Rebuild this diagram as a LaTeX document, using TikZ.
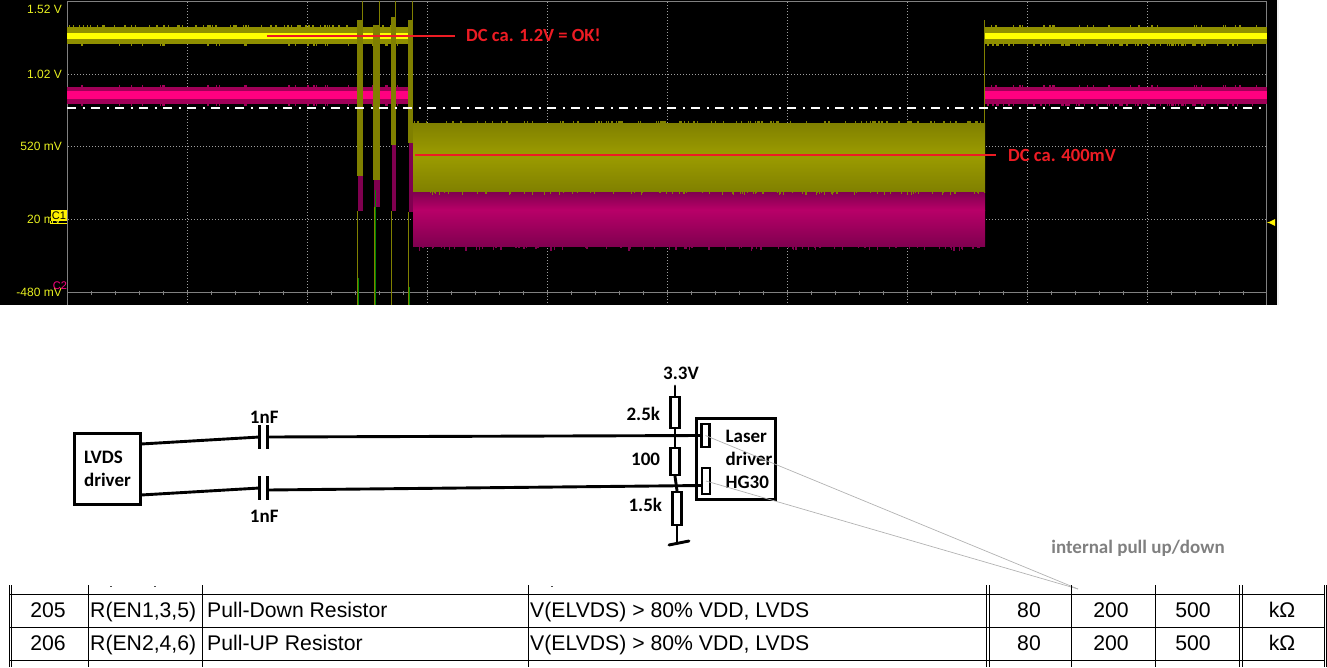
\documentclass[tikz,border=0pt]{standalone}
\usepackage{fontspec}
\setmainfont{Carlito}
\newfontfamily\arialfont{Liberation Sans}
\usetikzlibrary{positioning,calc}
\definecolor{trcyel}{HTML}{FFFF00}
\definecolor{trcyeld}{HTML}{8F8F00}
\definecolor{trcmag}{HTML}{FF0080}
\definecolor{trcmagd}{HTML}{A00058}
\definecolor{blockyel}{HTML}{9C9C00}
\definecolor{blockyeld}{HTML}{808000}
\definecolor{blockmag}{HTML}{B80068}
\definecolor{blockmagd}{HTML}{800050}
\definecolor{annred}{HTML}{ED1C24}
\definecolor{scaletxt}{HTML}{E8F020}
\tikzstyle{box}=[rectangle,line width=3pt,draw=black,fill=white,inner sep=0pt]
\tikzstyle{res}=[rectangle,line width=2.5pt,draw=black,fill=white,minimum width=9pt,inner sep=0pt]
\tikzstyle{plate}=[rectangle,fill=black,minimum width=3pt,minimum height=24pt,inner sep=0pt]
\tikzstyle{pin}=[rectangle,line width=2.5pt,draw=black,fill=white,minimum width=8pt,inner sep=0pt]
\tikzset{
	wire/.style={line width=2.9pt,line cap=round},
	cirtxt/.style={font=\bfseries\fontsize{19}{23}\selectfont,align=left,inner sep=0pt},
	anntxt/.style={font=\bfseries\fontsize{18.6}{20}\selectfont,text=annred,anchor=west,inner sep=0pt},
	annline/.style={draw=annred,line width=2.2pt},
	scaletext/.style={font=\arialfont\fontsize{12}{14}\selectfont,text=scaletxt,anchor=east,inner sep=0pt},
	griddot/.style={draw=gray!75,line width=.7pt,dash pattern=on 1pt off 2pt},
	tabline/.style={draw=black,line width=1pt},
	tabtxt/.style={font=\arialfont\fontsize{21.2}{24}\selectfont,inner sep=0pt,text height=15.4pt,text depth=0pt}
}
\begin{document}
\begin{tikzpicture}[x=1pt,y=-1pt]
	\useasboundingbox (0,0) rectangle (1327,667);
	\fill[black] (0,0) rectangle (1277,305);
	\fill[gray!12] (1277,0) rectangle (1279,305);
	\foreach \gx in {187,307,...,1147} \draw[griddot] (\gx,2) -- (\gx,305);
	\foreach \gy in {74.5,146,219} \draw[griddot] (68,\gy) -- (1266,\gy);
	\draw[gray,line width=.8pt] (67,305) -- (67,1.5) -- (1266.5,1.5) -- (1266.5,305);
	\draw[gray,line width=.8pt] (67,292.5) -- (1266.5,292.5);
	\foreach \gx in {91,115,...,1243} \draw[gray,line width=.8pt] (\gx,290.5) -- (\gx,294.5);
	\foreach \lo/\hi in {67/408,985/1267} {
		\fill[trcyeld] (\lo,27) rectangle (\hi,44);
		\fill[trcyel] (\lo,33.3) rectangle (\hi,39);
		\fill[trcmagd] (\lo,87) rectangle (\hi,104);
		\fill[trcmag] (\lo,91) rectangle (\hi,99);
	}
	\pgfmathsetseed{205}
	\foreach \i in {1,...,70} {
		\pgfmathsetmacro{\xa}{67+340*rnd}
		\pgfmathsetmacro{\xb}{986+280*rnd}
		\fill[trcyeld] (\xa,25) rectangle +(1.3,2);
		\fill[trcyeld] (\xb,44) rectangle +(1.3,2);
		\fill[trcmagd] (\xb,104) rectangle +(1.3,2);
	}
	\foreach \i in {1,...,30} {
		\pgfmathsetmacro{\xa}{67+340*rnd}
		\pgfmathsetmacro{\xb}{986+280*rnd}
		\fill[trcyeld] (\xb,25) rectangle +(1.3,2);
		\fill[trcyeld] (\xa,44) rectangle +(1.3,2);
		\fill[trcmagd] (\xa,85) rectangle +(1.3,2);
		\fill[trcmagd] (\xb,85) rectangle +(1.3,2);
		\fill[trcmagd] (\xa,104) rectangle +(1.3,2);
	}
	\fill[blockyeld] (408.5,120) rectangle (413,143);
	\shade[top color=blockyeld,bottom color=blockyel] (413,123) rectangle (985,155);
	\shade[top color=blockyel,bottom color=blockyeld] (413,155) rectangle (985,192);
	\shade[top color=blockmagd,bottom color=blockmag] (413,192) rectangle (985,210);
	\shade[top color=blockmag,bottom color=blockmagd] (413,210) rectangle (985,246);
	\foreach \i in {1,...,100} {
		\pgfmathsetmacro{\xa}{414+570*rnd}
		\pgfmathsetmacro{\ya}{1+4*rnd}
		\fill[blockmagd] (\xa,246) rectangle +(1.3,\ya);
		\pgfmathsetmacro{\xb}{414+570*rnd}
		\fill[blockyeld] (\xb,121) rectangle +(1.3,2);
		\pgfmathsetmacro{\xc}{414+570*rnd}
		\fill[blockyeld] (\xc,192) rectangle +(1,\ya/1.5);
	}
	\draw[blockyeld,line width=.8pt] (984.5,20) -- (984.5,123);
	\foreach \xa/\xb/\yt/\ym/\yb/\xl in {357/363/20/176/211/357.5,373/380/25/180/207/374.5,391/396/17/145/211/391.5,408/413/20/143/212/408.5} {
		\fill[blockmagd] (\xa+1,\ym) rectangle (\xb,\yb);
		\fill[blockyeld] (\xa,\yt) rectangle (\xb,\ym);
		\draw[blockyeld,line width=.8pt] (\xb-.5,1) -- (\xb-.5,\yt);
		\draw[blockyeld,line width=.8pt] (\xl,\yb) -- (\xl,305);
	}
	\draw[green!55!black,line width=1pt] (358,278) -- (358,305);
	\draw[green!55!black,line width=1pt] (375,190) -- (375,305);
	\draw[green!55!black,line width=1pt] (409,287) -- (409,305);
	\draw[white,line width=2pt,dash pattern=on 9pt off 6.5pt on 2.5pt off 6pt] (67,108) -- (1262,108);
	\node (s1) [scaletext] at (62,9.5) {1.52 V};
	\node (s2) [scaletext] at (62,74.5) {1.02 V};
	\node (s3) [scaletext] at (62,146.5) {520 mV};
	\node (s4) [scaletext] at (62,219.5) {20 mV};
	\node (s5) [scaletext] at (62,292.5) {-480 mV};
	\node (c1tag) [rectangle,fill=yellow,minimum width=16pt,minimum height=11pt,inner sep=0pt,font=\arialfont\fontsize{11}{11}\selectfont] at (59,215.5) {C1};
	\draw[yellow,line width=1pt] (c1tag.south west) -- ++(0,2) -- ++(16,0);
	\node (c2tag) [inner sep=0pt,text=trcmag,font=\arialfont\fontsize{11}{11}\selectfont] at (60,286) {C2};
	\fill[yellow] (1275,219) -- (1275,226) -- (1270,223.5) -- (1267,222.5) -- (1270,221.5) -- cycle;
	\draw[annline] (267,36) -- (455,36);
	\node (dc1) [anntxt] at (466,35) {DC ca. 1.2V = OK!};
	\draw[annline] (415,155) -- (996,155);
	\node (dc2) [anntxt] at (1008,155) {DC ca. 400mV};
	\node (lvds) [box,minimum width=66pt,minimum height=71pt,cirtxt] at (107.5,469) {LVDS\\driver};
	\coordinate (lvdsa) at (141,444);
	\coordinate (lvdsb) at (141,495);
	\node (c1a) [plate] at (259.5,437) {};
	\node (c1b) [plate,right=5pt of c1a] {};
	\node (c2a) [plate] at (259.5,488) {};
	\node (c2b) [plate,right=5pt of c2a] {};
	\node (c1lab) [cirtxt,above=1pt of c1b.north west,xshift=-2pt] {1nF};
	\node (c2lab) [cirtxt,below=10pt of c2b.south west,xshift=-2pt] {1nF};
	\node (laser) [box,minimum width=79pt,minimum height=81pt] at (736,459) {};
	\node (pina) [pin,minimum height=23pt] at (705.5,435.5) {};
	\node (pinb) [pin,minimum height=26pt] at (706,481) {};
	\node (lasertxt) [cirtxt] at (749,459) {Laser\\driver\\HG30};
	\coordinate (pinbin) at (701,485.5);
	\coordinate (vcc) at (675,386);
	\node (r1) [res,minimum height=31pt] at (675,412.5) {};
	\node (r2) [res,minimum height=27pt] at (675,461.5) {};
	\node (r3) [res,minimum height=33pt] at (677,508.5) {};
	\coordinate (gnd) at (677,543);
	\coordinate (gnda) at (669,545);
	\coordinate (gndb) at (689,541);
	\draw[wire] (lvdsa) -- (c1a);
	\draw[wire] (lvdsb) -- (c2a);
	\draw[wire] (c1b) -- (pina.west);
	\draw[wire] (c2b.center |- 0,490) -- (pinbin);
	\draw[wire] (vcc) -- (r1.north);
	\draw[wire] (r1.south) -- (r2.north);
	\draw[wire] (r2.south) -- (r3.north);
	\draw[wire] (r3.south) -- (gnd);
	\draw[wire] (gnda) -- (gndb);
	\node (vlab) [cirtxt] at (681,373) {3.3V};
	\node (r1lab) [cirtxt,left=9pt of r1,yshift=-1pt] {2.5k};
	\node (r2lab) [cirtxt,left=9pt of r2,yshift=2pt] {100};
	\node (r3lab) [cirtxt,left=9pt of r3,yshift=4pt] {1.5k};
	\coordinate (tip) at (1078,589);
	\draw[gray!60,line width=.7pt] (pina.center) -- (tip);
	\draw[gray!60,line width=.7pt] (pinb.center) -- (tip);
	\node (pull) [cirtxt,text=gray] at (1138,548) {internal pull up/down};
	\foreach \ty in {594,627.5,660.5} \draw[tabline] (9,\ty) -- (1325,\ty);
	\foreach \tx in {9,11,88,202,528,986,989,1071,1155,1239,1242,1324,1326} \draw[tabline] (\tx,585) -- (\tx,667);
	\foreach \tx in {110,154,551} \fill[black!70] (\tx,586) rectangle +(1.5,1);
	\foreach \num/\ty/\pinname/\desc in {205/610/{R(EN1,3,5)}/Pull-Down Resistor,206/643/{R(EN2,4,6)}/Pull-UP Resistor} {
		\node (n\num) [tabtxt] at (48,\ty) {\num};
		\node (p\num) [tabtxt,anchor=west] at (90,\ty) {\pinname};
		\node (d\num) [tabtxt,anchor=west] at (207,\ty) {\desc};
		\node (v\num) [tabtxt,anchor=west] at (530,\ty) {V(ELVDS) > 80\% VDD, LVDS};
		\node (a\num) [tabtxt] at (1029,\ty) {80};
		\node (b\num) [tabtxt] at (1111,\ty) {200};
		\node (e\num) [tabtxt] at (1193,\ty) {500};
		\node (u\num) [tabtxt] at (1282,\ty) {kΩ};
	}
\end{tikzpicture}
\end{document}
